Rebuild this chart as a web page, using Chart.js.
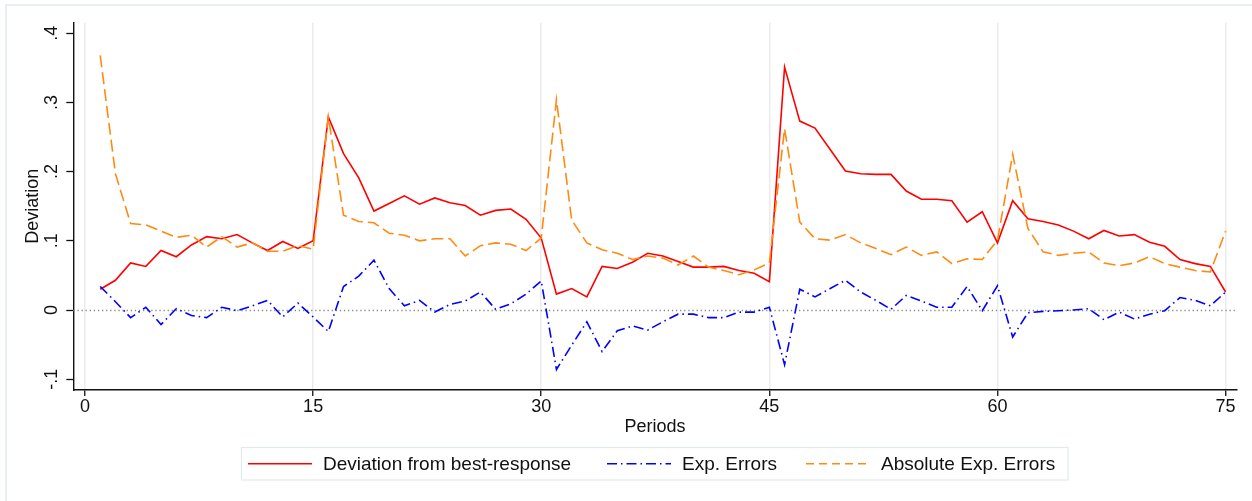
<!DOCTYPE html>
<html>
<head>
<meta charset="utf-8">
<title>Deviation by period</title>
<script src="https://cdn.jsdelivr.net/npm/chart.js@4.4.0/dist/chart.umd.min.js"></script>
<style>
    html, body { margin: 0; padding: 0; background: #ffffff; }
    #wrap { width: 1252px; height: 501px; }
</style>
</head>
<body>
<div id="wrap"><canvas id="deviationChart" width="1252" height="501"></canvas></div>
<script>
// ---- data ----
const periods = [
    1, 2, 3, 4, 5, 6, 7, 8, 9, 10, 11, 12, 13, 14, 15,
    16, 17, 18, 19, 20, 21, 22, 23, 24, 25, 26, 27, 28, 29, 30,
    31, 32, 33, 34, 35, 36, 37, 38, 39, 40, 41, 42, 43, 44, 45,
    46, 47, 48, 49, 50, 51, 52, 53, 54, 55, 56, 57, 58, 59, 60,
    61, 62, 63, 64, 65, 66, 67, 68, 69, 70, 71, 72, 73, 74, 75
];

const deviationBestResponse = [
    0.030, 0.043, 0.068, 0.063, 0.086, 0.077, 0.094, 0.106, 0.103, 0.109, 0.097, 0.086, 0.099, 0.089, 0.100,
    0.279, 0.226, 0.191, 0.143, 0.154, 0.165, 0.153, 0.162, 0.155, 0.151, 0.137, 0.144, 0.146, 0.131, 0.104,
    0.023, 0.031, 0.019, 0.063, 0.060, 0.069, 0.082, 0.078, 0.070, 0.062, 0.062, 0.063, 0.057, 0.053, 0.041,
    0.351, 0.273, 0.263, 0.232, 0.201, 0.197, 0.196, 0.196, 0.172, 0.160, 0.160, 0.158, 0.127, 0.142, 0.097,
    0.158, 0.132, 0.128, 0.123, 0.114, 0.103, 0.115, 0.107, 0.109, 0.098, 0.092, 0.073, 0.067, 0.063, 0.026
];

const expErrors = [
    0.034, 0.012, -0.011, 0.004, -0.021, 0.002, -0.008, -0.011, 0.004, -0.001, 0.006, 0.014, -0.010, 0.010, -0.010,
    -0.031, 0.034, 0.049, 0.072, 0.031, 0.006, 0.014, -0.003, 0.008, 0.013, 0.026, 0.001, 0.009, 0.023, 0.042,
    -0.086, -0.051, -0.017, -0.060, -0.030, -0.023, -0.029, -0.017, -0.006, -0.006, -0.011, -0.011, -0.003, -0.003, 0.004,
    -0.079, 0.030, 0.019, 0.031, 0.043, 0.026, 0.014, 0.001, 0.021, 0.013, 0.004, 0.004, 0.034, -0.001, 0.035,
    -0.039, -0.004, -0.002, -0.001, 0.000, 0.002, -0.014, -0.003, -0.013, -0.006, -0.001, 0.018, 0.014, 0.006, 0.026
];

const absExpErrors = [
    0.368, 0.197, 0.125, 0.123, 0.114, 0.105, 0.108, 0.091, 0.106, 0.091, 0.097, 0.085, 0.085, 0.093, 0.088,
    0.279, 0.137, 0.128, 0.126, 0.111, 0.108, 0.100, 0.103, 0.103, 0.078, 0.093, 0.097, 0.095, 0.086, 0.104,
    0.304, 0.130, 0.097, 0.087, 0.082, 0.073, 0.078, 0.075, 0.065, 0.078, 0.062, 0.057, 0.051, 0.058, 0.068,
    0.262, 0.127, 0.103, 0.101, 0.109, 0.097, 0.089, 0.080, 0.091, 0.079, 0.084, 0.067, 0.074, 0.073, 0.101,
    0.225, 0.118, 0.084, 0.079, 0.082, 0.084, 0.068, 0.064, 0.068, 0.077, 0.067, 0.062, 0.057, 0.055, 0.114
];

const seriesLabels = ['Deviation from best-response', 'Exp. Errors', 'Absolute Exp. Errors'];
const xTickValues = [0, 15, 30, 45, 60, 75];
const yTickValues = [-0.1, 0, 0.1, 0.2, 0.3, 0.4];
const yTickLabels = ['-.1', '0', '.1', '.2', '.3', '.4'];

const fontFamily = '"Liberation Sans", Arial, Helvetica, sans-serif';
const inkColor = '#111111';

function toPoints(values) {
    return periods.map((p, i) => ({ x: p, y: values[i] }));
}

// white page with the thin outer frame
const figureFrame = {
    id: 'figureFrame',
    beforeDraw(chart) {
        const ctx = chart.ctx;
        ctx.save();
        ctx.fillStyle = '#ffffff';
        ctx.fillRect(0, 0, chart.width, chart.height);
        ctx.strokeStyle = '#e2eaec';
        ctx.lineWidth = 1.5;
        ctx.strokeRect(6, 5, chart.width + 10, chart.height + 10);
        ctx.restore();
    }
};

// dotted reference line at y = 0
const zeroLine = {
    id: 'zeroLine',
    beforeDatasetsDraw(chart) {
        const { ctx, chartArea, scales } = chart;
        const y = Math.round(scales.y.getPixelForValue(0)) + 0.5;
        ctx.save();
        ctx.strokeStyle = '#8a8a8a';
        ctx.lineWidth = 1.3;
        ctx.setLineDash([1.3, 2.8]);
        ctx.beginPath();
        ctx.moveTo(chartArea.left, y);
        ctx.lineTo(chartArea.right, y);
        ctx.stroke();
        ctx.restore();
    }
};

// boxed legend under the axis title
const legendBox = {
    id: 'legendBox',
    afterDraw(chart) {
        const ctx = chart.ctx;
        const box = { left: 241.5, top: 447.5, width: 826.5, height: 32.5 };
        const keyStarts = [248, 607, 806];
        const keyLength = 64;
        const midY = box.top + box.height / 2;
        ctx.save();
        ctx.strokeStyle = '#e2eaec';
        ctx.lineWidth = 1.2;
        ctx.strokeRect(box.left, box.top, box.width, box.height);
        ctx.font = '19px ' + fontFamily;
        ctx.textBaseline = 'middle';
        ctx.textAlign = 'left';
        chart.data.datasets.forEach((ds, i) => {
            ctx.strokeStyle = ds.borderColor;
            ctx.lineWidth = ds.borderWidth;
            ctx.setLineDash(ds.keyDash || []);
            ctx.beginPath();
            ctx.moveTo(keyStarts[i], midY);
            ctx.lineTo(keyStarts[i] + keyLength, midY);
            ctx.stroke();
            ctx.setLineDash([]);
            ctx.fillStyle = inkColor;
            ctx.fillText(ds.label, keyStarts[i] + keyLength + 11, midY + 1);
        });
        ctx.restore();
    }
};

new Chart(document.getElementById('deviationChart').getContext('2d'), {
    type: 'line',
    data: {
        datasets: [
            {
                label: seriesLabels[0],
                data: toPoints(deviationBestResponse),
                borderColor: '#ff0000',
                borderWidth: 1.6,
                order: 3
            },
            {
                label: seriesLabels[1],
                data: toPoints(expErrors),
                borderColor: '#0000ff',
                borderWidth: 1.6,
                borderDash: [10, 4, 1.5, 4],
                keyDash: [10, 4, 1.5, 4],
                order: 2
            },
            {
                label: seriesLabels[2],
                data: toPoints(absExpErrors),
                borderColor: '#ff8a10',
                borderWidth: 1.6,
                borderDash: [12, 5],
                keyDash: [8, 5],
                order: 1
            }
        ]
    },
    options: {
        responsive: false,
        animation: false,
        layout: { padding: { top: 22.7, right: 15.3, bottom: 0, left: 0 } },
        elements: {
            point: { radius: 0 },
            line: { tension: 0, fill: false }
        },
        plugins: {
            legend: { display: false },
            tooltip: { enabled: false }
        },
        scales: {
            x: {
                type: 'linear',
                min: -0.77,
                max: 75.73,
                afterBuildTicks: (scale) => { scale.ticks = xTickValues.map(v => ({ value: v })); },
                afterFit: (scale) => { scale.height = 111; },
                grid: { color: '#ebebeb', lineWidth: 1.5, tickColor: inkColor, tickLength: 6, tickWidth: 1.3 },
                border: { color: inkColor, width: 1.4 },
                ticks: { font: { size: 18, family: fontFamily }, color: inkColor, padding: 0, maxRotation: 0, autoSkip: false },
                title: {
                    display: true,
                    text: 'Periods',
                    font: { size: 18, family: fontFamily },
                    color: inkColor,
                    padding: { top: 0, bottom: 63 }
                }
            },
            y: {
                min: -0.1156,
                max: 0.4152,
                afterBuildTicks: (scale) => { scale.ticks = yTickValues.map(v => ({ value: v })); },
                afterFit: (scale) => { scale.width = 73.3; },
                grid: { drawOnChartArea: false, tickColor: inkColor, tickLength: 7, tickWidth: 1.3 },
                border: { color: inkColor, width: 1.4 },
                ticks: {
                    font: { size: 18, family: fontFamily },
                    color: inkColor,
                    padding: 4,
                    minRotation: 90,
                    maxRotation: 90,
                    crossAlign: 'center',
                    callback: (value, index) => yTickLabels[index]
                },
                title: {
                    display: true,
                    text: 'Deviation',
                    font: { size: 18, family: fontFamily },
                    color: inkColor,
                    padding: { top: 22, bottom: 0 }
                }
            }
        }
    },
    plugins: [figureFrame, zeroLine, legendBox]
});
</script>
</body>
</html>
